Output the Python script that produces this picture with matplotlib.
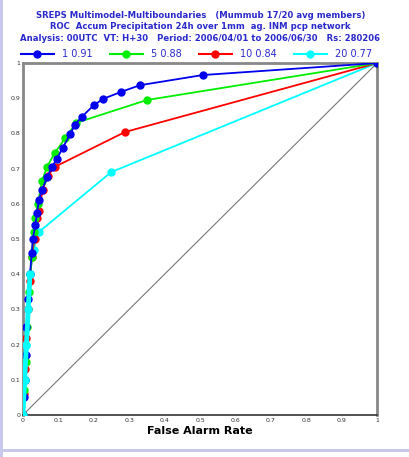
import matplotlib
matplotlib.use("Agg")
import matplotlib.pyplot as plt
from matplotlib.lines import Line2D
from matplotlib.patches import Rectangle

# ---- data ----
titles = ["SREPS Multimodel-Multiboundaries   (Mummub 17/20 avg members)",
          "ROC  Accum Precipitation 24h over 1mm  ag. INM pcp network",
          "Analysis: 00UTC  VT: H+30   Period: 2006/04/01 to 2006/06/30   Rs: 280206"]
series_labels = ["1 0.91", "5 0.88", "10 0.84", "20 0.77"]
series_colors = ["#0000ee", "#00ee00", "#ff0000", "#00ffff"]

blue_far = [0, 0.003, 0.005, 0.008, 0.010, 0.015, 0.020, 0.025, 0.028, 0.035, 0.040, 0.045, 0.054,
            0.068, 0.082, 0.096, 0.113, 0.133, 0.147, 0.167, 0.200, 0.226, 0.277, 0.330, 0.508, 1.0]
blue_pod = [0, 0.05, 0.10, 0.17, 0.25, 0.33, 0.40, 0.46, 0.50, 0.54, 0.575, 0.61, 0.64,
            0.675, 0.705, 0.728, 0.76, 0.797, 0.825, 0.848, 0.88, 0.898, 0.918, 0.937, 0.966, 1.0]

green_far = [0, 0.004, 0.008, 0.012, 0.018, 0.025, 0.030, 0.035, 0.042, 0.054, 0.068, 0.090,
             0.120, 0.150, 0.350, 1.0]
green_pod = [0, 0.07, 0.15, 0.25, 0.35, 0.45, 0.52, 0.56, 0.60, 0.665, 0.705, 0.745,
             0.787, 0.83, 0.895, 1.0]

red_far = [0, 0.003, 0.006, 0.010, 0.015, 0.020, 0.025, 0.033, 0.039, 0.045, 0.056, 0.070,
           0.090, 0.288, 1.0]
red_pod = [0, 0.06, 0.13, 0.22, 0.30, 0.38, 0.45, 0.50, 0.56, 0.58, 0.64, 0.68,
           0.705, 0.804, 1.0]

cyan_far = [0, 0.005, 0.010, 0.015, 0.020, 0.030, 0.045, 0.249, 1.0]
cyan_pod = [0, 0.10, 0.20, 0.30, 0.40, 0.47, 0.52, 0.69, 1.0]

xticks = [0, 0.1, 0.2, 0.3, 0.4, 0.5, 0.6, 0.7, 0.8, 0.9, 1]
xticklabels = ["0", "0.1", "0.2", "0.3", "0.4", "0.5", "0.6", "0.7", "0.8", "0.9", "1"]
yticks = [0, 0.1, 0.2, 0.3, 0.4, 0.5, 0.6, 0.7, 0.8, 0.9, 1]
yticklabels = ["0", "0.1", "0.2", "0.3", "0.4", "0.5", "0.6", "0.7", "0.8", "0.9", "1"]
xlabel = "False Alarm Rate"

# ---- figure ----
fig = plt.figure(figsize=(4.09, 4.57), dpi=100)
fig.patch.set_facecolor("white")
fig.add_artist(Rectangle((0, 0), 0.007, 1, transform=fig.transFigure, color="#c8c8ee", lw=0))
fig.add_artist(Rectangle((0, 0.012), 1, 0.006, transform=fig.transFigure, color="#c8c8ee", lw=0))

ax = fig.add_axes([0.056, 0.092, 0.866, 0.770])
ax.set_xlim(0, 1)
ax.set_ylim(0, 1)

ax.plot([0, 1], [0, 1], color="#777777", lw=0.8, zorder=1)

data = [(blue_far, blue_pod), (green_far, green_pod), (red_far, red_pod), (cyan_far, cyan_pod)]
zs = [5, 4, 3, 2]
for (fx, py), c, z in zip(data, series_colors, zs):
    ax.plot(fx, py, color=c, lw=1.3, marker="o", markersize=5, zorder=z)
# cyan band along left edge, drawn over the crowded low part
ax.plot(cyan_far[:5], cyan_pod[:5], color="#00ffff", lw=3.5, marker="o", markersize=5,
        zorder=6, solid_capstyle="round")

ax.set_xticks(xticks)
ax.set_xticklabels(xticklabels, fontsize=4.5, color="#333333")
ax.set_yticks(yticks)
ax.set_yticklabels(yticklabels, fontsize=4.5, color="#333333")
ax.tick_params(length=0, pad=2)
ax.set_xlabel(xlabel, fontsize=8, fontweight="bold", labelpad=2)

for s in ["left", "top", "right"]:
    ax.spines[s].set_color("#888888")
    ax.spines[s].set_linewidth(2)
ax.spines["bottom"].set_color("#333333")
ax.spines["bottom"].set_linewidth(1.2)

title_color = "#2a2acc"
ty = [0.967, 0.941, 0.915]
for t, y in zip(titles, ty):
    fig.text(0.49, y, t, ha="center", va="center", fontsize=6.1, fontweight="bold", color=title_color)

handles = [Line2D([0], [0], color=c, lw=1.5, marker="o", markersize=5) for c in series_colors]
leg = fig.legend(handles, series_labels, loc="center", bbox_to_anchor=(0.48, 0.882), ncol=4,
                 frameon=False, fontsize=7, handlelength=3.4, columnspacing=1.8, handletextpad=0.8,
                 borderpad=0)
for txt in leg.get_texts():
    txt.set_color(title_color)

fig.savefig("out.png", dpi=100, facecolor="white")
